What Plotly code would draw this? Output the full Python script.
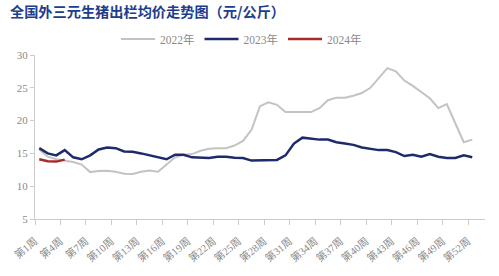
import plotly.graph_objects as go

weeks = list(range(1, 54))
tick_weeks = list(range(1, 53, 3))
tick_labels = [f"第{w}周" for w in tick_weeks]

price_2022 = [15.6, 14.5, 14.1, 13.9, 13.7, 13.3, 12.15, 12.3, 12.35, 12.2,
              11.9, 11.85, 12.2, 12.4, 12.2, 13.3, 14.4, 14.8, 14.9, 15.4,
              15.7, 15.8, 15.8, 16.2, 16.9, 18.6, 22.2, 22.8, 22.4, 21.3,
              21.3, 21.4, 21.3, 21.9, 23.1, 23.5, 23.5, 23.8, 24.2, 25.0,
              26.5, 28.0, 27.5, 26.1, 25.3, 24.4, 23.4, 21.9, 22.5, 19.6,
              16.7, 17.1]
price_2023 = [15.8, 15.0, 14.7, 15.5, 14.4, 14.1, 14.7, 15.6, 15.9, 15.8,
              15.3, 15.25, 15.0, 14.7, 14.4, 14.1, 14.8, 14.8, 14.4, 14.3,
              14.3, 14.5, 14.5, 14.35, 14.3, 13.9, 13.9, 14.0, 14.0, 14.7,
              16.5, 17.4, 17.2, 17.1, 17.1, 16.7, 16.5, 16.3, 15.9, 15.7,
              15.5, 15.5, 15.2, 14.6, 14.8, 14.5, 14.9, 14.5, 14.3, 14.3,
              14.7, 14.4]
price_2024 = [14.1, 13.8, 13.75, 14.05]

series = [("2022年", price_2022, "#c3c3c3", 2),
          ("2023年", price_2023, "#1f2a6b", 2.5),
          ("2024年", price_2024, "#a82b2b", 2.5)]

fig = go.Figure()
for name, vals, color, w in series:
    fig.add_trace(go.Scatter(x=weeks[:len(vals)], y=vals, mode="lines", name=name,
                             line=dict(color=color, width=w)))

tick_font = dict(family="Liberation Serif, Noto Sans CJK SC", size=11, color="#8a8a8a")
xtick_font = dict(family="Liberation Serif, Noto Sans CJK SC", size=10.5, color="#8a8a8a")

fig.update_layout(
    width=499, height=276,
    margin=dict(l=35, r=14, t=55, b=45),
    paper_bgcolor="white", plot_bgcolor="white",
    title=dict(text="<b>全国外三元生猪出栏均价走势图（元/公斤）</b>",
               x=0.02, xanchor="left", y=0.955, yanchor="middle",
               font=dict(family="Noto Sans CJK SC", size=14.2, color="#203d8c")),
    legend=dict(orientation="h", x=0.18, xanchor="left", y=1.097, yanchor="middle",
                font=dict(family="Liberation Serif, Noto Sans CJK SC", size=11.5, color="#8a8a8a"),
                itemwidth=34, tracegroupgap=0, bgcolor="rgba(0,0,0,0)"),
    showlegend=True,
)
fig.update_xaxes(
    range=[0.5, 53.5],
    tickmode="array", tickvals=[w - 0.5 for w in tick_weeks], ticktext=tick_labels,
    tickangle=-40, tickfont=xtick_font, ticklabelstandoff=6,
    showgrid=False, zeroline=False,
    showline=True, linecolor="#cccccc", linewidth=1,
    ticks="outside", ticklen=5, tickcolor="#cccccc",
)
fig.update_yaxes(
    range=[5, 30], tickvals=[5, 10, 15, 20, 25, 30], tickfont=tick_font,
    showgrid=False, zeroline=False,
    showline=True, linecolor="#cccccc", linewidth=1,
    ticks="outside", ticklen=4, tickcolor="#cccccc",
)

fig.write_html("out.html")
